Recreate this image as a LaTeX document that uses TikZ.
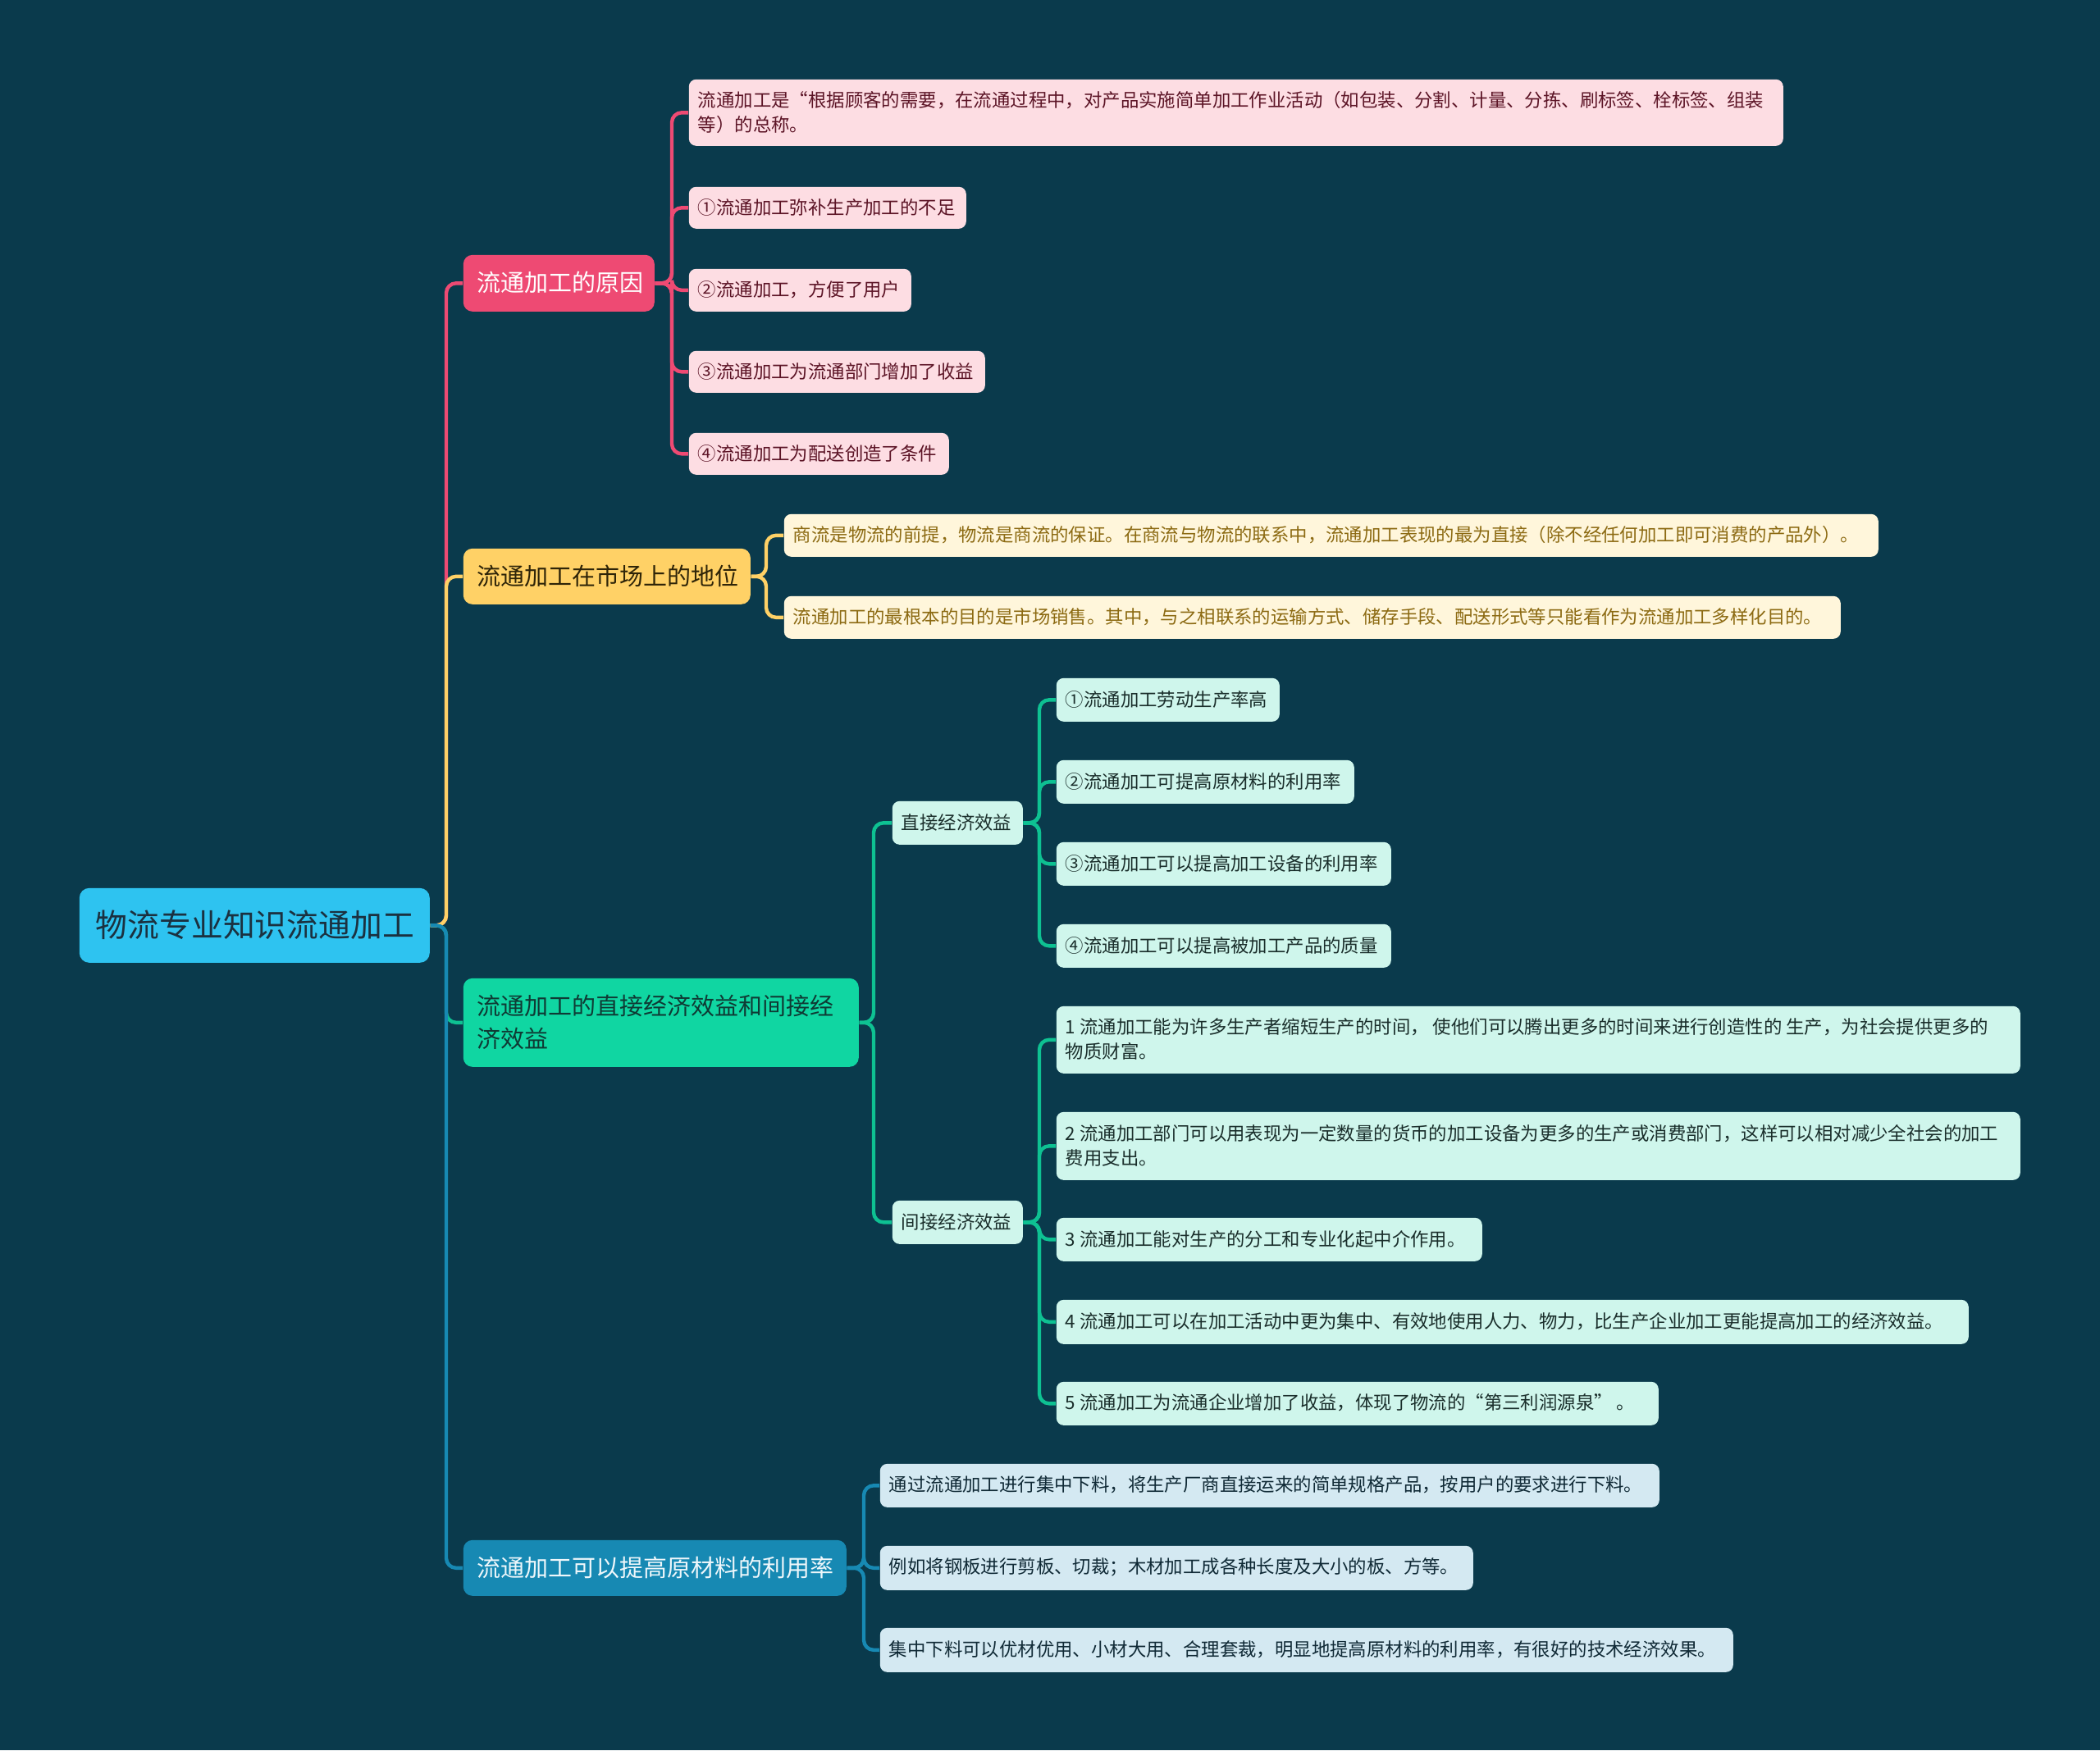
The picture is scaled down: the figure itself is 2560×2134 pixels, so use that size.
\documentclass[tikz,border=0pt]{standalone}
\usepackage{fontspec}
\setmainfont{Noto Sans CJK SC}
\definecolor{bgc}{HTML}{0A3A4C}
\definecolor{rootc}{HTML}{2EC3F0}
\definecolor{roottx}{HTML}{1B3140}
\definecolor{pkc}{HTML}{EE4A73}
\definecolor{pkl}{HTML}{FDDDE3}
\definecolor{pklt}{HTML}{5C1426}
\definecolor{ylc}{HTML}{FFD166}
\definecolor{ylt}{HTML}{2E2408}
\definecolor{yll}{HTML}{FFF6DB}
\definecolor{yllt}{HTML}{8C6A12}
\definecolor{grc}{HTML}{10D6A2}
\definecolor{grt}{HTML}{0F3A34}
\definecolor{grl}{HTML}{CFF6EC}
\definecolor{grlt}{HTML}{1A2E2B}
\definecolor{blc}{HTML}{1789B3}
\definecolor{blt}{HTML}{EEF7FB}
\definecolor{bll}{HTML}{D4E9F2}
\definecolor{bllt}{HTML}{102A36}
\pgfdeclarelayer{bottom}
\pgfdeclarelayer{links}
\pgfsetlayers{bottom,links,main}
\newcommand\mm[8]{%
  \node[#2box, minimum width={(#5-#4)*0.25pt}, minimum height={(#7-#6)*0.25pt}, anchor=north west] (#1) at (#4,#6) {};
  \node[#2txt, anchor=west] (#1-t) at ({#4+#3},{(#6+#7)/2}) {#8};
}
\newcommand\cn[4]{\draw[#1] (#2.east) -- (#2.east -| #4) |- (#3.west);}
\tikzset{
  basebox/.style={inner sep=0pt, draw=none, rounded corners=2.2pt},
  basetxt/.style={inner sep=0pt, align=left},
  rootbox/.style={basebox, fill=rootc, rounded corners=3pt},
  roottxt/.style={basetxt, text=roottx, font=\fontsize{9.7pt}{12pt}\selectfont},
  lvone/.style={basetxt, font=\fontsize{7.25pt}{10pt}\selectfont},
  leaf/.style={basetxt, font=\fontsize{5.6pt}{7.5pt}\selectfont},
  pkbox/.style={basebox, fill=pkc, rounded corners=2.8pt},
  pktxt/.style={lvone, text=white},
  ylbox/.style={basebox, fill=ylc, rounded corners=2.8pt},
  yltxt/.style={lvone, text=ylt},
  grbox/.style={basebox, fill=grc, rounded corners=2.8pt},
  grtxt/.style={lvone, text=grt},
  blbox/.style={basebox, fill=blc, rounded corners=2.8pt},
  bltxt/.style={lvone, text=blt},
  pkleafbox/.style={basebox, fill=pkl},
  pkleaftxt/.style={leaf, text=pklt},
  ylleafbox/.style={basebox, fill=yll},
  ylleaftxt/.style={leaf, text=yllt},
  grleafbox/.style={basebox, fill=grl},
  grleaftxt/.style={leaf, text=grlt},
  blleafbox/.style={basebox, fill=bll},
  blleaftxt/.style={leaf, text=bllt},
  link/.style={line width=1.1pt, rounded corners=3pt},
  pklink/.style={link, draw=pkc},
  yllink/.style={link, draw=ylc},
  grlink/.style={link, draw=grc!90!black},
  bllink/.style={link, draw=blc},
}
\begin{document}
\begin{tikzpicture}[x=0.25pt, y=-0.25pt]
\begin{pgfonlayer}{bottom}
\fill[bgc] (0,0) rectangle (2560,2134);
\end{pgfonlayer}
\useasboundingbox (0,0) rectangle (2560,2134);
% bus coordinates
\coordinate (trunk) at (544,0);
\coordinate (pkbus) at (819,0);
\coordinate (ylbus) at (934,0);
\coordinate (grbus) at (1065,0);
\coordinate (g1bus) at (1267,0);
\coordinate (g2bus) at (1267,0);
\coordinate (blbus) at (1053,0);
% root
\mm{root}{root}{20}{96}{523}{1082}{1173}{物流专业知识流通加工}
% level one
\mm{pk}{pk}{17}{564}{797}{310}{379}{流通加工的原因}
\mm{yl}{yl}{17}{564}{914}{668}{736}{流通加工在市场上的地位}
\mm{gr}{gr}{17}{564}{1046}{1192}{1300}{流通加工的直接经济效益和间接经\\济效益}
\mm{bl}{bl}{17}{564}{1031}{1877}{1945}{流通加工可以提高原材料的利用率}
% pink leaves
\mm{p1}{pkleaf}{11}{839}{2173}{96}{177}{流通加工是“根据顾客的需要，在流通过程中，对产品实施简单加工作业活动（如包装、分割、计量、分拣、刷标签、栓标签、组装\\等）的总称。}
\mm{p2}{pkleaf}{11}{839}{1177}{227}{278}{①流通加工弥补生产加工的不足}
\mm{p3}{pkleaf}{11}{839}{1110}{327}{379}{②流通加工，方便了用户}
\mm{p4}{pkleaf}{11}{839}{1200}{427}{478}{③流通加工为流通部门增加了收益}
\mm{p5}{pkleaf}{11}{839}{1156}{527}{578}{④流通加工为配送创造了条件}
% yellow leaves
\mm{y1}{ylleaf}{11}{955}{2289}{626}{678}{商流是物流的前提，物流是商流的保证。在商流与物流的联系中，流通加工表现的最为直接（除不经任何加工即可消费的产品外）。}
\mm{y2}{ylleaf}{11}{955}{2243}{726}{778}{流通加工的最根本的目的是市场销售。其中，与之相联系的运输方式、储存手段、配送形式等只能看作为流通加工多样化目的。}
% green second level
\mm{g1}{grleaf}{11}{1087}{1246}{976}{1029}{直接经济效益}
\mm{g2}{grleaf}{11}{1087}{1246}{1463}{1516}{间接经济效益}
\mm{d1}{grleaf}{11}{1287}{1559}{826}{879}{①流通加工劳动生产率高}
\mm{d2}{grleaf}{11}{1287}{1650}{926}{979}{②流通加工可提高原材料的利用率}
\mm{d3}{grleaf}{11}{1287}{1695}{1026}{1079}{③流通加工可以提高加工设备的利用率}
\mm{d4}{grleaf}{11}{1287}{1695}{1126}{1179}{④流通加工可以提高被加工产品的质量}
\mm{i1}{grleaf}{11}{1287}{2462}{1226}{1308}{1 流通加工能为许多生产者缩短生产的时间，\ 使他们可以腾出更多的时间来进行创造性的 生产，为社会提供更多的\\物质财富。}
\mm{i2}{grleaf}{11}{1287}{2462}{1355}{1438}{2 流通加工部门可以用表现为一定数量的货币的加工设备为更多的生产或消费部门，这样可以相对减少全社会的加工\\费用支出。}
\mm{i3}{grleaf}{11}{1287}{1806}{1484}{1537}{3 流通加工能对生产的分工和专业化起中介作用。}
\mm{i4}{grleaf}{11}{1287}{2399}{1584}{1638}{4 流通加工可以在加工活动中更为集中、有效地使用人力、物力，比生产企业加工更能提高加工的经济效益。}
\mm{i5}{grleaf}{11}{1287}{2021}{1684}{1737}{5 流通加工为流通企业增加了收益，体现了物流的“第三利润源泉” 。}
% blue leaves
\mm{b1}{blleaf}{11}{1072}{2022}{1784}{1837}{通过流通加工进行集中下料，将生产厂商直接运来的简单规格产品，按用户的要求进行下料。}
\mm{b2}{blleaf}{11}{1072}{1795}{1884}{1938}{例如将钢板进行剪板、切裁；木材加工成各种长度及大小的板、方等。}
\mm{b3}{blleaf}{11}{1072}{2112}{1984}{2038}{集中下料可以优材优用、小材大用、合理套裁，明显地提高原材料的利用率，有很好的技术经济效果。}
% connectors (behind the boxes)
\begin{pgfonlayer}{links}
\cn{pklink}{root}{pk}{trunk}
\cn{grlink}{root}{gr}{trunk}
\cn{yllink}{root}{yl}{trunk}
\cn{bllink}{root}{bl}{trunk}
\foreach \c in {p1,p2,p3,p4,p5} {\cn{pklink}{pk}{\c}{pkbus}}
\foreach \c in {y1,y2} {\cn{yllink}{yl}{\c}{ylbus}}
\foreach \c in {g1,g2} {\cn{grlink}{gr}{\c}{grbus}}
\foreach \c in {d1,d2,d3,d4} {\cn{grlink}{g1}{\c}{g1bus}}
\foreach \c in {i1,i2,i3,i4,i5} {\cn{grlink}{g2}{\c}{g2bus}}
\foreach \c in {b1,b2,b3} {\cn{bllink}{bl}{\c}{blbus}}
\end{pgfonlayer}
\end{tikzpicture}
\end{document}
